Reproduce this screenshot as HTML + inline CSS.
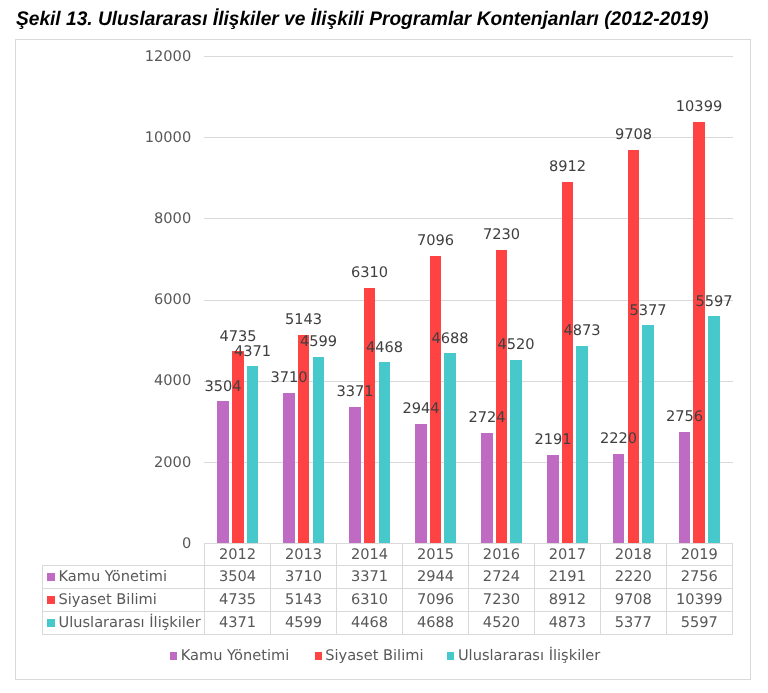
<!DOCTYPE html><html><head><meta charset="utf-8"><style>html,body{margin:0;padding:0;background:#fff;width:768px;height:693px;overflow:hidden}svg{display:block;will-change:transform}text{text-rendering:geometricPrecision;font-family:"DejaVu Sans","Liberation Sans",sans-serif}.t{font-family:"Liberation Sans",Arial,sans-serif;font-weight:bold;font-style:italic}</style></head><body>
<svg width="768" height="693" viewBox="0 0 768 693">
<rect x="0" y="0" width="768" height="693" fill="#fff"/>
<text class="t" transform="translate(16,25) scale(0.9720812182741116,1)" font-size="19.7" fill="#000">Şekil 13. Uluslararası İlişkiler ve İlişkili Programlar Kontenjanları (2012-2019)</text>
<rect x="15.5" y="39.5" width="735" height="640" fill="none" stroke="#D9D9D9" stroke-width="1"/>
<line x1="204" x2="733" y1="56.5" y2="56.5" stroke="#D9D9D9" stroke-width="1"/>
<line x1="204" x2="733" y1="137.5" y2="137.5" stroke="#D9D9D9" stroke-width="1"/>
<line x1="204" x2="733" y1="218.5" y2="218.5" stroke="#D9D9D9" stroke-width="1"/>
<line x1="204" x2="733" y1="300.5" y2="300.5" stroke="#D9D9D9" stroke-width="1"/>
<line x1="204" x2="733" y1="381.5" y2="381.5" stroke="#D9D9D9" stroke-width="1"/>
<line x1="204" x2="733" y1="462.5" y2="462.5" stroke="#D9D9D9" stroke-width="1"/>
<text x="191.20" y="61" font-size="14.6" fill="#595959" text-anchor="end">12000</text>
<text x="191.20" y="142" font-size="14.6" fill="#595959" text-anchor="end">10000</text>
<text x="191.20" y="223" font-size="14.6" fill="#595959" text-anchor="end">8000</text>
<text x="191.20" y="304" font-size="14.6" fill="#595959" text-anchor="end">6000</text>
<text x="191.20" y="385" font-size="14.6" fill="#595959" text-anchor="end">4000</text>
<text x="191.20" y="467" font-size="14.6" fill="#595959" text-anchor="end">2000</text>
<text x="191.20" y="548" font-size="14.6" fill="#595959" text-anchor="end">0</text>
<rect x="217" y="401" width="12" height="142" fill="#BF6BC4"/>
<rect x="232" y="351" width="12" height="192" fill="#FF4343"/>
<rect x="247" y="366" width="11" height="177" fill="#47C8CB"/>
<rect x="283" y="393" width="12" height="150" fill="#BF6BC4"/>
<rect x="298" y="335" width="11" height="208" fill="#FF4343"/>
<rect x="313" y="357" width="11" height="186" fill="#47C8CB"/>
<rect x="349" y="407" width="12" height="136" fill="#BF6BC4"/>
<rect x="364" y="288" width="11" height="255" fill="#FF4343"/>
<rect x="379" y="362" width="11" height="181" fill="#47C8CB"/>
<rect x="415" y="424" width="12" height="119" fill="#BF6BC4"/>
<rect x="430" y="256" width="11" height="287" fill="#FF4343"/>
<rect x="444" y="353" width="12" height="190" fill="#47C8CB"/>
<rect x="481" y="433" width="12" height="110" fill="#BF6BC4"/>
<rect x="496" y="250" width="11" height="293" fill="#FF4343"/>
<rect x="510" y="360" width="12" height="183" fill="#47C8CB"/>
<rect x="547" y="455" width="12" height="88" fill="#BF6BC4"/>
<rect x="562" y="182" width="11" height="361" fill="#FF4343"/>
<rect x="576" y="346" width="12" height="197" fill="#47C8CB"/>
<rect x="613" y="454" width="11" height="89" fill="#BF6BC4"/>
<rect x="628" y="150" width="11" height="393" fill="#FF4343"/>
<rect x="642" y="325" width="12" height="218" fill="#47C8CB"/>
<rect x="679" y="432" width="11" height="111" fill="#BF6BC4"/>
<rect x="693" y="122" width="12" height="421" fill="#FF4343"/>
<rect x="708" y="316" width="12" height="227" fill="#47C8CB"/>
<text x="223.00" y="391" font-size="14.6" fill="#404040" text-anchor="middle">3504</text>
<text x="238.00" y="341" font-size="14.6" fill="#404040" text-anchor="middle">4735</text>
<text x="252.50" y="356" font-size="14.6" fill="#404040" text-anchor="middle">4371</text>
<text x="289.00" y="382" font-size="14.6" fill="#404040" text-anchor="middle">3710</text>
<text x="303.50" y="324" font-size="14.6" fill="#404040" text-anchor="middle">5143</text>
<text x="318.50" y="346" font-size="14.6" fill="#404040" text-anchor="middle">4599</text>
<text x="355.00" y="396" font-size="14.6" fill="#404040" text-anchor="middle">3371</text>
<text x="369.50" y="277" font-size="14.6" fill="#404040" text-anchor="middle">6310</text>
<text x="384.50" y="352" font-size="14.6" fill="#404040" text-anchor="middle">4468</text>
<text x="421.00" y="413" font-size="14.6" fill="#404040" text-anchor="middle">2944</text>
<text x="435.50" y="245" font-size="14.6" fill="#404040" text-anchor="middle">7096</text>
<text x="450.00" y="343" font-size="14.6" fill="#404040" text-anchor="middle">4688</text>
<text x="487.00" y="422" font-size="14.6" fill="#404040" text-anchor="middle">2724</text>
<text x="501.50" y="239" font-size="14.6" fill="#404040" text-anchor="middle">7230</text>
<text x="516.00" y="349" font-size="14.6" fill="#404040" text-anchor="middle">4520</text>
<text x="553.00" y="444" font-size="14.6" fill="#404040" text-anchor="middle">2191</text>
<text x="567.50" y="171" font-size="14.6" fill="#404040" text-anchor="middle">8912</text>
<text x="582.00" y="335" font-size="14.6" fill="#404040" text-anchor="middle">4873</text>
<text x="618.50" y="443" font-size="14.6" fill="#404040" text-anchor="middle">2220</text>
<text x="633.50" y="139" font-size="14.6" fill="#404040" text-anchor="middle">9708</text>
<text x="648.00" y="315" font-size="14.6" fill="#404040" text-anchor="middle">5377</text>
<text x="684.50" y="421" font-size="14.6" fill="#404040" text-anchor="middle">2756</text>
<text x="699.00" y="111" font-size="14.6" fill="#404040" text-anchor="middle">10399</text>
<text x="714.00" y="306" font-size="14.6" fill="#404040" text-anchor="middle">5597</text>
<g stroke="#D9D9D9" stroke-width="1" fill="none">
<line x1="204" x2="733" y1="543.5" y2="543.5"/>
<line x1="42" x2="733" y1="565.5" y2="565.5"/>
<line x1="42" x2="733" y1="588.5" y2="588.5"/>
<line x1="42" x2="733" y1="611.5" y2="611.5"/>
<line x1="42" x2="733" y1="634.5" y2="634.5"/>
<line x1="42.5" x2="42.5" y1="565" y2="635"/>
<line x1="204.5" x2="204.5" y1="543" y2="635"/>
<line x1="270.5" x2="270.5" y1="543" y2="635"/>
<line x1="336.5" x2="336.5" y1="543" y2="635"/>
<line x1="402.5" x2="402.5" y1="543" y2="635"/>
<line x1="468.5" x2="468.5" y1="543" y2="635"/>
<line x1="534.5" x2="534.5" y1="543" y2="635"/>
<line x1="600.5" x2="600.5" y1="543" y2="635"/>
<line x1="666.5" x2="666.5" y1="543" y2="635"/>
<line x1="732.5" x2="732.5" y1="543" y2="635"/>
</g>
<text x="237.58" y="559" font-size="14.6" fill="#595959" text-anchor="middle">2012</text>
<text x="303.54" y="559" font-size="14.6" fill="#595959" text-anchor="middle">2013</text>
<text x="369.50" y="559" font-size="14.6" fill="#595959" text-anchor="middle">2014</text>
<text x="435.46" y="559" font-size="14.6" fill="#595959" text-anchor="middle">2015</text>
<text x="501.42" y="559" font-size="14.6" fill="#595959" text-anchor="middle">2016</text>
<text x="567.38" y="559" font-size="14.6" fill="#595959" text-anchor="middle">2017</text>
<text x="633.34" y="559" font-size="14.6" fill="#595959" text-anchor="middle">2018</text>
<text x="699.30" y="559" font-size="14.6" fill="#595959" text-anchor="middle">2019</text>
<rect x="47" y="573" width="8" height="8" fill="#BF6BC4"/>
<text x="58.50" y="581" font-size="14.6" fill="#595959">Kamu Yönetimi</text>
<text x="237.58" y="581" font-size="14.6" fill="#595959" text-anchor="middle">3504</text>
<text x="303.54" y="581" font-size="14.6" fill="#595959" text-anchor="middle">3710</text>
<text x="369.50" y="581" font-size="14.6" fill="#595959" text-anchor="middle">3371</text>
<text x="435.46" y="581" font-size="14.6" fill="#595959" text-anchor="middle">2944</text>
<text x="501.42" y="581" font-size="14.6" fill="#595959" text-anchor="middle">2724</text>
<text x="567.38" y="581" font-size="14.6" fill="#595959" text-anchor="middle">2191</text>
<text x="633.34" y="581" font-size="14.6" fill="#595959" text-anchor="middle">2220</text>
<text x="699.30" y="581" font-size="14.6" fill="#595959" text-anchor="middle">2756</text>
<rect x="47" y="596" width="8" height="8" fill="#FF4343"/>
<text x="58.50" y="604" font-size="14.6" fill="#595959">Siyaset Bilimi</text>
<text x="237.58" y="604" font-size="14.6" fill="#595959" text-anchor="middle">4735</text>
<text x="303.54" y="604" font-size="14.6" fill="#595959" text-anchor="middle">5143</text>
<text x="369.50" y="604" font-size="14.6" fill="#595959" text-anchor="middle">6310</text>
<text x="435.46" y="604" font-size="14.6" fill="#595959" text-anchor="middle">7096</text>
<text x="501.42" y="604" font-size="14.6" fill="#595959" text-anchor="middle">7230</text>
<text x="567.38" y="604" font-size="14.6" fill="#595959" text-anchor="middle">8912</text>
<text x="633.34" y="604" font-size="14.6" fill="#595959" text-anchor="middle">9708</text>
<text x="699.30" y="604" font-size="14.6" fill="#595959" text-anchor="middle">10399</text>
<rect x="47" y="619" width="8" height="8" fill="#47C8CB"/>
<text x="58.50" y="627" font-size="14.6" fill="#595959">Uluslararası İlişkiler</text>
<text x="237.58" y="627" font-size="14.6" fill="#595959" text-anchor="middle">4371</text>
<text x="303.54" y="627" font-size="14.6" fill="#595959" text-anchor="middle">4599</text>
<text x="369.50" y="627" font-size="14.6" fill="#595959" text-anchor="middle">4468</text>
<text x="435.46" y="627" font-size="14.6" fill="#595959" text-anchor="middle">4688</text>
<text x="501.42" y="627" font-size="14.6" fill="#595959" text-anchor="middle">4520</text>
<text x="567.38" y="627" font-size="14.6" fill="#595959" text-anchor="middle">4873</text>
<text x="633.34" y="627" font-size="14.6" fill="#595959" text-anchor="middle">5377</text>
<text x="699.30" y="627" font-size="14.6" fill="#595959" text-anchor="middle">5597</text>
<rect x="170" y="652" width="7" height="8" fill="#BF6BC4"/>
<text x="180.70" y="660" font-size="14.6" fill="#595959">Kamu Yönetimi</text>
<rect x="315" y="652" width="7" height="8" fill="#FF4343"/>
<text x="325.20" y="660" font-size="14.6" fill="#595959">Siyaset Bilimi</text>
<rect x="447" y="652" width="7" height="8" fill="#47C8CB"/>
<text x="457.90" y="660" font-size="14.6" fill="#595959">Uluslararası İlişkiler</text>
</svg></body></html>
